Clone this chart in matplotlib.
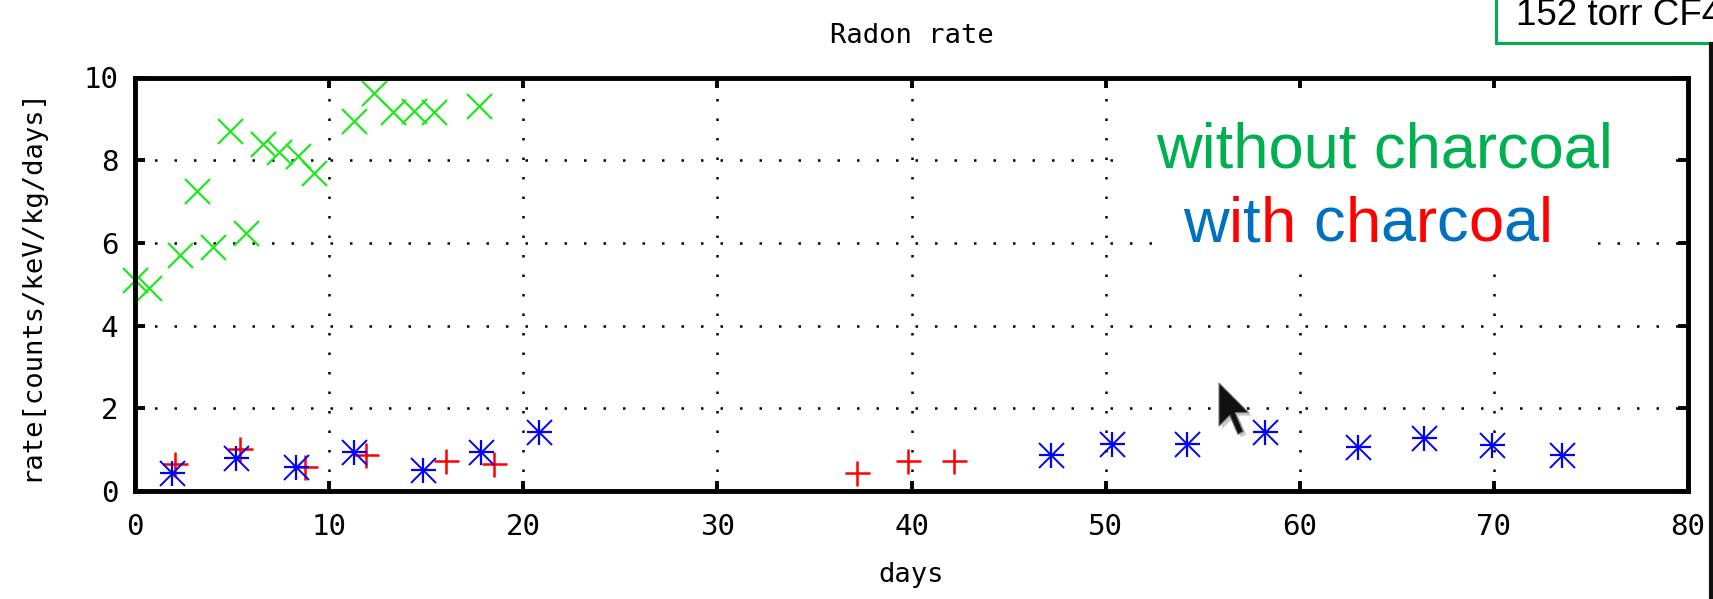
import numpy as np
import matplotlib.pyplot as plt
from matplotlib.patches import Rectangle, Polygon
from matplotlib.lines import Line2D
from matplotlib.font_manager import FontProperties

# radon rate measurements (days since fill, counts/keV/kg/day)
green_days = [0.0, 0.7, 2.3, 3.2, 4.0, 4.9, 5.7, 6.6, 7.4, 8.4, 9.2,
              11.3, 12.3, 13.3, 14.35, 15.4, 17.7]
green_rate = [5.1, 4.9, 5.7, 7.25, 5.9, 8.7, 6.25, 8.4, 8.2, 8.1, 7.7,
              8.95, 9.62, 9.16, 9.2, 9.16, 9.3]

red_days = [2.05, 5.4, 8.75, 11.9, 16.0, 18.5, 37.2, 39.8, 42.2]
red_rate = [0.66, 1.01, 0.58, 0.87, 0.72, 0.66, 0.43, 0.72, 0.72]

blue_days = [1.9, 5.2, 8.3, 11.3, 14.85, 17.8, 20.8,
             47.2, 50.35, 54.2, 58.2, 63.0, 66.4, 69.9, 73.5]
blue_rate = [0.44, 0.80, 0.58, 0.95, 0.51, 0.95, 1.42,
             0.86, 1.14, 1.14, 1.43, 1.07, 1.29, 1.12, 0.86]

x_ticks = np.arange(0, 81, 10)
y_ticks = np.arange(0, 11, 2)

W, H = 1713, 599
mono = 'DejaVu Sans Mono'
arial = 'Liberation Sans'


def fx(px):
    return px / W


def fy(py):
    return 1 - py / H


def white_box(x0, y0, x1, y1, z):
    # pixel box (top-left origin) painted over the axes
    fig.add_artist(Rectangle((fx(x0), fy(y1)), (x1 - x0) / W, (y1 - y0) / H,
                             transform=fig.transFigure, fc='white', ec='none', zorder=z))


fig = plt.figure(figsize=(W / 100, H / 100), dpi=100)
ax = fig.add_axes([fx(135), fy(491), (1688 - 135) / W, (491 - 77.5) / H])

ax.plot(green_days, green_rate, 'x', color='#1ee81e', ms=18, mew=1.6, clip_on=False, zorder=4)
ax.plot(red_days, red_rate, '+', color='#ff0000', ms=18, mew=1.8, clip_on=False, zorder=5)
ax.plot(blue_days, blue_rate, '+', color='#0000ff', ms=18, mew=1.6, clip_on=False, zorder=6)
ax.plot(blue_days, blue_rate, 'x', color='#0000ff', ms=18, mew=1.4, clip_on=False, zorder=6)

ax.set_xlim(0, 80)
ax.set_ylim(0, 10)
ax.set_xticks(x_ticks)
ax.set_yticks(y_ticks)
ax.grid(True, color='black', linestyle=(0, (1, 6.8)), linewidth=1.8)
ax.set_axisbelow(True)
for s in ax.spines.values():
    s.set_linewidth(3.5)
    s.set_zorder(7)
ax.tick_params(direction='in', length=7.5, width=2.8, top=True, right=True,
               labelsize=21)
ax.tick_params(axis='x', pad=16)
ax.tick_params(axis='y', pad=12)
for lab in ax.get_xticklabels() + ax.get_yticklabels():
    lab.set_family(mono)

ax.set_title('Radon rate', family=mono, fontsize=19.5, pad=25)
ax.set_xlabel('days', family=mono, fontsize=19.5, labelpad=15)
ax.set_ylabel('rate[counts/keV/kg/days]', family=mono, fontsize=19.5)
ax.yaxis.set_label_coords(-0.0586, 0.5)

# captions sit on white patches that hide the grid behind them
white_box(1118, 88, 1672, 200, 8)
white_box(1160, 195, 1590, 270, 8)

fig.text(fx(1385), fy(167), 'without charcoal', family=arial, fontsize=45.5,
         color='#00b050', ha='center', va='baseline', zorder=10)

label = 'with charcoal'
prop = FontProperties(family=arial, size=45.5)
renderer = fig.canvas.get_renderer()
w_full = renderer.get_text_width_height_descent(label, prop, ismath=False)[0]
x0 = 1368 - w_full / 2
colors = ['#0070c0', '#ff0000']
k = 0
for i, ch in enumerate(label):
    if ch == ' ':
        continue
    w_pre = renderer.get_text_width_height_descent(label[:i + 1], prop, ismath=False)[0]
    w_ch = renderer.get_text_width_height_descent(ch, prop, ismath=False)[0]
    fig.text(fx(x0 + w_pre - w_ch), fy(242), ch, fontproperties=prop,
             color=colors[k % 2], ha='left', va='baseline', zorder=11)
    k += 1

# gas label box in the corner
fig.add_artist(Rectangle((fx(1496), fy(43)), (1800 - 1496) / W, 60 / H,
                         transform=fig.transFigure, fc='white', ec='#00b050',
                         lw=2.2, zorder=12))
fig.text(fx(1516), fy(25), '152 torr CF4', family=arial, fontsize=26.5,
         color='black', ha='left', va='baseline', zorder=13)
fig.add_artist(Line2D([fx(1711), fx(1711)], [fy(44), fy(600)],
                      transform=fig.transFigure, color='#111111', lw=3, zorder=12))

# mouse pointer
arrow = np.array([[0, 0], [0, 16], [4, 12], [7, 19], [9, 18], [6, 11], [11, 11]]) * 2.7
shadow = Polygon([(fx(1222 + a), fy(386 + b)) for a, b in arrow], closed=True,
                 transform=fig.transFigure, fc='#999999', ec='none', alpha=0.5, zorder=14)
pointer = Polygon([(fx(1219 + a), fy(383 + b)) for a, b in arrow], closed=True,
                  transform=fig.transFigure, fc='#111111', ec='#777777', lw=0.8, zorder=15)
fig.add_artist(shadow)
fig.add_artist(pointer)

fig.savefig('out.png', dpi=100)
